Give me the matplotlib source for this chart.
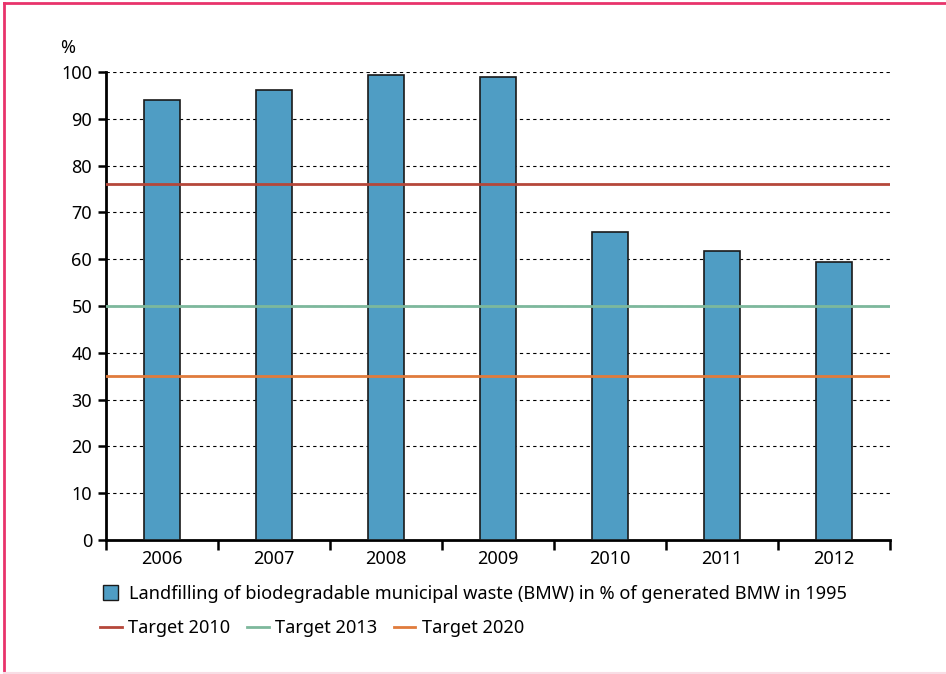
import matplotlib
matplotlib.use('Agg')
import matplotlib.pyplot as plt
from matplotlib.patches import Patch
from matplotlib.lines import Line2D
import numpy as np

plt.rcParams['font.family'] = ['Noto Sans', 'DejaVu Sans']

years = ['2006', '2007', '2008', '2009', '2010', '2011', '2012']
landfill = [94.0, 96.2, 99.4, 98.9, 65.8, 61.8, 59.4]
target_names = ['Target 2010', 'Target 2013', 'Target 2020']
target_values = [76, 50, 35]
target_colors = ['#b5473a', '#7db89c', '#e07b3c']
bar_label = 'Landfilling of biodegradable municipal waste (BMW) in % of generated BMW in 1995'

fig = plt.figure(figsize=(9.46, 6.74), dpi=100)
ax = fig.add_axes([106/946, 1-540/674, 784/946, 468/674])

x = np.arange(len(years))
ax.bar(x, landfill, width=0.33, color='#4f9dc4', edgecolor='#1a1a1a', linewidth=1.2, zorder=3)

for name, val, col in zip(target_names, target_values, target_colors):
    ax.axhline(val, color=col, linewidth=2, zorder=4)

ax.set_xlim(-0.5, len(years) - 0.5)
ax.set_ylim(0, 100)
ax.set_yticks(np.arange(0, 101, 10))
ax.yaxis.grid(True, linestyle=(0, (3, 3)), color='black', linewidth=0.8, zorder=0)
ax.set_xticks(x)
ax.set_xticklabels(years)
ax.set_xticks(np.arange(-0.5, len(years)), minor=True)
ax.tick_params(axis='x', which='major', length=0, labelsize=13, pad=7)
ax.tick_params(axis='x', which='minor', length=7, width=1.8, direction='out')
ax.tick_params(axis='y', length=6, width=1.8, labelsize=13, pad=4)

for s in ['top', 'right']:
    ax.spines[s].set_visible(False)
for s in ['left', 'bottom']:
    ax.spines[s].set_linewidth(2)

fig.text(60/946, 1-48/674, '%', fontsize=13, va='center', ha='left')

# legend
fig.legend([Patch(facecolor='#4f9dc4', edgecolor='#1a1a1a')], [bar_label],
           loc='center left', bbox_to_anchor=(103/946, 1-594/674), frameon=False,
           fontsize=13.1, handlelength=0.85, handleheight=0.85, handletextpad=0.6,
           borderaxespad=0, borderpad=0)
handles = [Line2D([], [], color=c, linewidth=2) for c in target_colors]
fig.legend(handles, target_names, loc='center left', bbox_to_anchor=(100/946, 1-628/674),
           ncol=3, frameon=False, fontsize=13.1, handlelength=1.2, handletextpad=0.35,
           columnspacing=0.9, borderaxespad=0, borderpad=0)

# pink frame
fig.add_artist(Line2D([3.5/946, 3.5/946], [0, 1-2.5/674], color='#e8336b', linewidth=2, transform=fig.transFigure))
fig.add_artist(Line2D([3.5/946, 1], [1-2.5/674, 1-2.5/674], color='#e8336b', linewidth=2, transform=fig.transFigure))
fig.add_artist(Line2D([3.5/946, 1], [1.5/674, 1.5/674], color='#f8dde5', linewidth=1.5, transform=fig.transFigure))

fig.savefig('out.png', dpi=100)
